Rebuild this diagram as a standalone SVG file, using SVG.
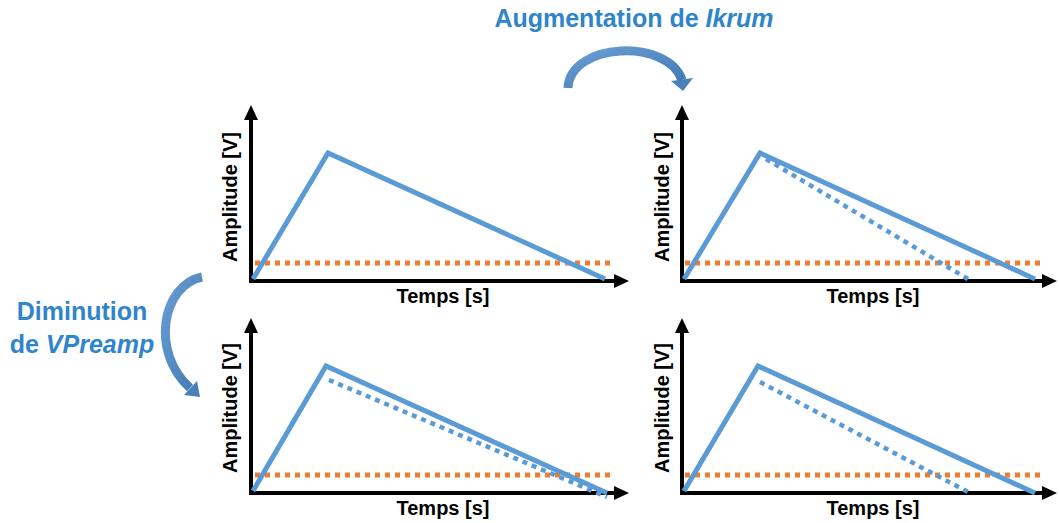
<svg xmlns="http://www.w3.org/2000/svg" width="1059" height="523" viewBox="0 0 1059 523">
<defs>
<style>
.axis{stroke:#000;stroke-width:4;fill:none}
.head{fill:#000}
.sig{stroke:#5B9BD5;stroke-width:5;fill:none;stroke-linejoin:miter}
.sigd{stroke:#5B9BD5;stroke-width:4.5;fill:none;stroke-dasharray:5 5}
.thr{stroke:#ED7D31;stroke-width:5;fill:none;stroke-dasharray:5 5}
.lab{font-family:"Liberation Sans",Arial,sans-serif;font-weight:bold;font-size:20px;fill:#000;text-anchor:middle}
.ttl{font-family:"Liberation Sans",Arial,sans-serif;font-weight:bold;font-size:25px;fill:#2F85CA;text-anchor:middle}
.cshaft{fill:none;stroke:url(#cg);stroke-width:9}
</style>
<linearGradient id="cg" x1="0" y1="0" x2="1" y2="1">
<stop offset="0" stop-color="#6A9DD2"/>
<stop offset="1" stop-color="#3F78B4"/>
</linearGradient>
</defs>
<rect width="1059" height="523" fill="#fff"/>

<g id="title-top">
<text class="ttl" x="634" y="27">Augmentation de <tspan font-style="italic">Ikrum</tspan></text>
</g>
<g id="title-left">
<text class="ttl" x="82" y="320">Diminution</text>
<text class="ttl" x="82" y="353">de <tspan font-style="italic">VPreamp</tspan></text>
</g>

<g id="connectors">
<path class="cshaft" d="M568 88 C570 42 668 38 682 80"/>
<polygon points="671,81 693,78 683,91" fill="#4A80BA"/>
<path class="cshaft" d="M202 277 C162 285 150 352 190 388"/>
<polygon points="184,395 197,381 200,397" fill="#4A80BA"/>
</g>

<g id="panel1">
<line class="axis" x1="251" y1="283" x2="251" y2="118"/>
<polygon class="head" points="251,105 244,120 258,120"/>
<line class="axis" x1="249" y1="281" x2="616" y2="281"/>
<polygon class="head" points="629,281 614,274 614,288"/>
<line class="thr" x1="255" y1="263" x2="613" y2="263"/>
<polyline class="sig" points="253,279 328,153 605,279"/>
<text class="lab" x="443" y="303">Temps [s]</text>
<text class="lab" transform="translate(237,197) rotate(-90)">Amplitude [V]</text>
</g>

<g id="panel2">
<line class="axis" x1="682" y1="283" x2="682" y2="118"/>
<polygon class="head" points="682,105 675,120 689,120"/>
<line class="axis" x1="680" y1="281" x2="1044" y2="281"/>
<polygon class="head" points="1057,281 1042,274 1042,288"/>
<line class="thr" x1="685" y1="263" x2="1043" y2="263"/>
<line class="sigd" x1="766" y1="159" x2="968" y2="279"/>
<polyline class="sig" points="684,279 760,153 1035,279"/>
<text class="lab" x="873" y="303">Temps [s]</text>
<text class="lab" transform="translate(669,197) rotate(-90)">Amplitude [V]</text>
</g>

<g id="panel3">
<line class="axis" x1="251" y1="495" x2="251" y2="331"/>
<polygon class="head" points="251,318 244,333 258,333"/>
<line class="axis" x1="249" y1="493" x2="616" y2="493"/>
<polygon class="head" points="629,493 614,486 614,500"/>
<line class="thr" x1="255" y1="475" x2="613" y2="475"/>
<line class="sigd" x1="329" y1="380" x2="607" y2="497"/>
<polyline class="sig" points="253,491 326,366 607,493"/>
<text class="lab" x="443" y="515">Temps [s]</text>
<text class="lab" transform="translate(237,408) rotate(-90)">Amplitude [V]</text>
</g>

<g id="panel4">
<line class="axis" x1="682" y1="495" x2="682" y2="331"/>
<polygon class="head" points="682,318 675,333 689,333"/>
<line class="axis" x1="680" y1="493" x2="1044" y2="493"/>
<polygon class="head" points="1057,493 1042,486 1042,500"/>
<line class="thr" x1="685" y1="475" x2="1043" y2="475"/>
<line class="sigd" x1="760" y1="382" x2="968" y2="492"/>
<polyline class="sig" points="684,491 758,366 1035,493"/>
<text class="lab" x="873" y="515">Temps [s]</text>
<text class="lab" transform="translate(669,408) rotate(-90)">Amplitude [V]</text>
</g>
</svg>
